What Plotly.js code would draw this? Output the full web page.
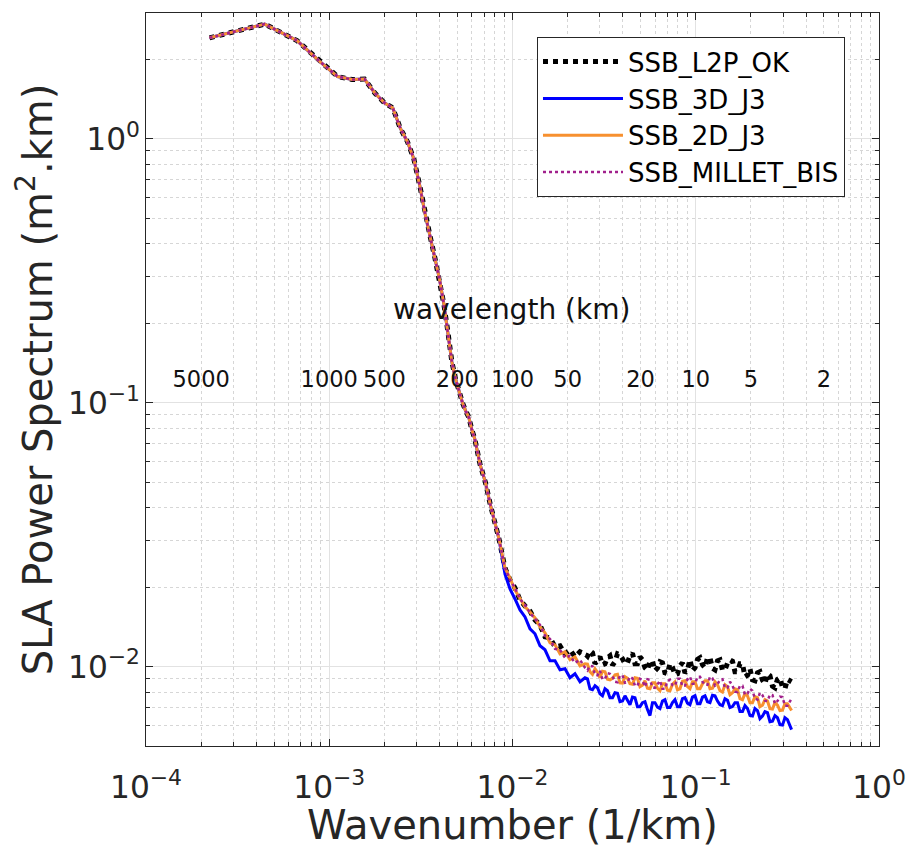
<!DOCTYPE html>
<html>
<head>
<meta charset="utf-8">
<script src="https://cdn.plot.ly/plotly-3.0.1.min.js"></script>
<style>html,body{margin:0;padding:0;background:#fff;}</style>
</head>
<body>
<div id="chart" style="width:908px;height:848px;"></div>
<script>
// ---- data ----
// common low-wavenumber part (all four spectra coincide)
const wavenumberLow = [0.0002222, 0.0004444, 0.0006667, 0.0008889, 0.0011111, 0.0013333, 0.0015556, 0.0017778, 0.002, 0.0022222,
  0.0024444, 0.0026667, 0.0028889, 0.0031111, 0.0033333, 0.0035556, 0.0037778, 0.004, 0.0042222, 0.0044444,
  0.0046667, 0.0048889, 0.0051111, 0.0053333, 0.0055556, 0.0057778, 0.006, 0.0062222, 0.0066667, 0.0071111,
  0.0075556, 0.008, 0.0084444];
const spectrumLow = [2.416, 2.722, 2.358, 1.964, 1.723, 1.679, 1.686, 1.489, 1.369, 1.310,
  1.095, 0.978, 0.844, 0.670, 0.521, 0.426, 0.352, 0.293, 0.236, 0.185,
  0.143, 0.123, 0.110, 0.100, 0.093, 0.088, 0.079, 0.073, 0.058, 0.050,
  0.0413, 0.0356, 0.0304];

// high-wavenumber part where the spectra separate (noisy)
const wavenumberHigh = [0.009101, 0.009691, 0.010319, 0.010988, 0.011702, 0.012459, 0.013268, 0.014128, 0.015043, 0.016019,
  0.017057, 0.018163, 0.019340, 0.020594, 0.021929, 0.023351, 0.024865,
  0.025659, 0.026477, 0.027323, 0.028193, 0.029093, 0.030021, 0.030980, 0.031967, 0.032988, 0.034039,
  0.035126, 0.036245, 0.037403, 0.038594, 0.039827, 0.041096, 0.042409, 0.043760, 0.045158, 0.046597,
  0.048085, 0.049617, 0.051202, 0.052834, 0.054522, 0.056258, 0.058055, 0.059906, 0.061819, 0.063789,
  0.065826, 0.067925, 0.070095, 0.072328, 0.074638, 0.077017, 0.079477, 0.082009, 0.084628, 0.087325,
  0.090114, 0.092986, 0.095956, 0.099063, 0.10223, 0.10548, 0.10885, 0.11231, 0.11590, 0.11959,
  0.12341, 0.12734, 0.13141, 0.13559, 0.13992, 0.14438, 0.14899, 0.15374, 0.15865, 0.16370,
  0.16893, 0.17431, 0.17988, 0.18561, 0.19154, 0.19764, 0.20395, 0.21045, 0.21717, 0.22409,
  0.23125, 0.23862, 0.24624, 0.25408, 0.26220, 0.27055, 0.27919, 0.28809, 0.29729, 0.30676,
  0.31656, 0.3333];

const ssbL2POK = [0.02364, 0.02129, 0.01986, 0.01788, 0.01697, 0.01625, 0.01503, 0.01439, 0.01296, 0.01285,
  0.01188, 0.01199, 0.01118, 0.01158, 0.01089, 0.01138, 0.01118,
  0.01094, 0.01148, 0.01128, 0.01025, 0.01052, 0.01089, 0.01016, 0.01025, 0.01080, 0.01099,
  0.01012, 0.01043, 0.01118, 0.01108, 0.01070, 0.01025, 0.01034, 0.01099, 0.01123, 0.01025,
  0.01025, 0.01089, 0.01061, 0.00990, 0.00968, 0.01052, 0.01048, 0.00964, 0.00986, 0.01043,
  0.01034, 0.00947, 0.00939, 0.01025, 0.00994, 0.00931, 0.00939, 0.01007, 0.01034, 0.00947,
  0.00972, 0.01061, 0.00964, 0.00990, 0.01065, 0.01080, 0.01016, 0.00990, 0.01080, 0.01080,
  0.00986, 0.00972, 0.01052, 0.01061, 0.00968, 0.00972, 0.01030, 0.01061, 0.01048, 0.00956,
  0.00956, 0.01025, 0.01025, 0.00915, 0.00927, 0.00981, 0.00891, 0.00884, 0.00947, 0.00956,
  0.00888, 0.00861, 0.00939, 0.00923, 0.00843, 0.00831, 0.00895, 0.00907, 0.00835, 0.00824,
  0.00895, 0.00876];

const ssb3DJ3 = [0.02243, 0.01968, 0.01804, 0.01639, 0.01543, 0.01390, 0.01331, 0.01199, 0.01158, 0.01052,
  0.01052, 0.00972, 0.00981, 0.00907, 0.00939, 0.00876, 0.00907,
  0.00899, 0.00824, 0.00817, 0.00846, 0.00831, 0.00789, 0.00775, 0.00824, 0.00810, 0.00762,
  0.00762, 0.00796, 0.00792, 0.00736, 0.00740, 0.00775, 0.00743, 0.00717, 0.00766, 0.00762,
  0.00705, 0.00705, 0.00730, 0.00736, 0.00687, 0.00652, 0.00730, 0.00730, 0.00702, 0.00693,
  0.00740, 0.00749, 0.00699, 0.00699, 0.00730, 0.00749, 0.00705, 0.00705, 0.00756, 0.00762,
  0.00727, 0.00717, 0.00766, 0.00775, 0.00723, 0.00723, 0.00766, 0.00775, 0.00736, 0.00730,
  0.00779, 0.00775, 0.00740, 0.00717, 0.00711, 0.00756, 0.00746, 0.00699, 0.00705, 0.00730,
  0.00730, 0.00675, 0.00675, 0.00711, 0.00693, 0.00652, 0.00649, 0.00693, 0.00681, 0.00635,
  0.00649, 0.00675, 0.00669, 0.00618, 0.00621, 0.00652, 0.00640, 0.00602, 0.00600, 0.00640,
  0.00629, 0.00577];

const ssb2DJ3 = [0.02364, 0.02166, 0.01951, 0.01820, 0.01683, 0.01611, 0.01529, 0.01414, 0.01342, 0.01230,
  0.01209, 0.01118, 0.01138, 0.01061, 0.01089, 0.01007, 0.01025,
  0.01021, 0.00956, 0.00935, 0.00981, 0.00952, 0.00907, 0.00960, 0.00956, 0.00895, 0.00891,
  0.00903, 0.00931, 0.00935, 0.00868, 0.00865, 0.00915, 0.00903, 0.00861, 0.00857, 0.00907,
  0.00903, 0.00839, 0.00850, 0.00884, 0.00828, 0.00824, 0.00868, 0.00868, 0.00828, 0.00810,
  0.00861, 0.00861, 0.00814, 0.00810, 0.00857, 0.00876, 0.00817, 0.00824, 0.00880, 0.00884,
  0.00839, 0.00824, 0.00876, 0.00876, 0.00824, 0.00824, 0.00861, 0.00884, 0.00884, 0.00824,
  0.00828, 0.00876, 0.00853, 0.00810, 0.00800, 0.00853, 0.00839, 0.00782, 0.00796, 0.00824,
  0.00817, 0.00756, 0.00749, 0.00789, 0.00775, 0.00730, 0.00730, 0.00769, 0.00762, 0.00705,
  0.00714, 0.00749, 0.00740, 0.00693, 0.00690, 0.00730, 0.00714, 0.00681, 0.00684, 0.00723,
  0.00723, 0.00681];

const ssbMilletBis = [0.02364, 0.02129, 0.01986, 0.01804, 0.01712, 0.01597, 0.01516, 0.01439, 0.01308, 0.01274,
  0.01168, 0.01158, 0.01080, 0.01099, 0.01034, 0.01061, 0.00990,
  0.00968, 0.01007, 0.01003, 0.00931, 0.00927, 0.00964, 0.00895, 0.00899, 0.00943, 0.00939,
  0.00919, 0.00876, 0.00872, 0.00923, 0.00927, 0.00868, 0.00872, 0.00915, 0.00903, 0.00846,
  0.00846, 0.00899, 0.00888, 0.00839, 0.00895, 0.00891, 0.00835, 0.00831, 0.00861, 0.00884,
  0.00824, 0.00824, 0.00880, 0.00891, 0.00850, 0.00846, 0.00899, 0.00899, 0.00843, 0.00846,
  0.00895, 0.00915, 0.00861, 0.00861, 0.00915, 0.00915, 0.00876, 0.00853, 0.00853, 0.00915,
  0.00903, 0.00846, 0.00857, 0.00891, 0.00895, 0.00831, 0.00831, 0.00876, 0.00846, 0.00803,
  0.00800, 0.00846, 0.00846, 0.00782, 0.00789, 0.00824, 0.00810, 0.00756, 0.00749, 0.00796,
  0.00779, 0.00743, 0.00740, 0.00782, 0.00779, 0.00723, 0.00740, 0.00769, 0.00766, 0.00711,
  0.00711, 0.00756];

const seriesNames = ['SSB_L2P_OK', 'SSB_3D_J3', 'SSB_2D_J3', 'SSB_MILLET_BIS'];
const wavelengthLabels = [5000, 1000, 500, 200, 100, 50, 20, 10, 5, 2];   // km
const wavelengthLabelLevel = 0.12;
const wavelengthTitle = 'wavelength (km)';
const wavelengthTitlePos = [0.0099, 0.22];

// ---- styling ----
const FONT = 'DejaVu Sans, Liberation Sans, sans-serif';
const INK = '#262626';
const styles = [
  {color: '#000000', width: 5, dash: 'dot'},
  {color: '#0000ff', width: 3, dash: 'solid'},
  {color: '#f7902f', width: 3, dash: 'solid'},
  {color: '#a1208c', width: 2.5, dash: 'dot'}
];
const highSeries = [ssbL2POK, ssb3DJ3, ssb2DJ3, ssbMilletBis];

const traces = highSeries.map((hi, i) => ({
  type: 'scatter', mode: 'lines', name: seriesNames[i],
  x: wavenumberLow.concat(wavenumberHigh),
  y: spectrumLow.concat(hi),
  line: styles[i], hoverinfo: 'skip'
}));

traces.push({
  type: 'scatter', mode: 'text', showlegend: false, hoverinfo: 'skip',
  x: wavelengthLabels.map(w => 1 / w),
  y: wavelengthLabels.map(() => wavelengthLabelLevel),
  text: wavelengthLabels.map(String),
  textposition: 'middle center',
  textfont: {family: FONT, size: 22.5, color: '#111'}
});
traces.push({
  type: 'scatter', mode: 'text', showlegend: false, hoverinfo: 'skip',
  x: [wavelengthTitlePos[0]], y: [wavelengthTitlePos[1]],
  text: [wavelengthTitle], textposition: 'middle center',
  textfont: {family: FONT, size: 28, color: '#111'}
});

function axis(extra) {
  return Object.assign({
    type: 'log', showline: true, linecolor: INK, linewidth: 1, mirror: 'allticks',
    ticks: 'inside', ticklen: 7, tickwidth: 1, tickcolor: INK,
    showgrid: true, gridcolor: '#e2e2e2', gridwidth: 1,
    minor: {ticks: 'inside', ticklen: 4, tickcolor: INK, showgrid: true,
            gridcolor: '#d6d6d6', griddash: 'dot', gridwidth: 1, dtick: 'D1'},
    dtick: 1, exponentformat: 'power', zeroline: false, automargin: false,
    labelalias: {'1': '10<sup>0</sup>'},
    tickfont: {family: FONT, size: 25, color: INK}
  }, extra);
}

const layout = {
  width: 908, height: 848,
  margin: {l: 146, r: 29, t: 13, b: 102},
  paper_bgcolor: '#ffffff', plot_bgcolor: '#ffffff',
  font: {family: FONT, color: INK},
  showlegend: true,
  xaxis: axis({range: [-4, 0], ticklabelstandoff: 15,
    title: {text: 'Wavenumber (1/km)', font: {family: FONT, size: 40, color: INK}, standoff: 27}}),
  yaxis: axis({range: [-2.30103, 0.47712],
    title: {text: 'SLA Power Spectrum (m<sup>2</sup>.km)', font: {family: FONT, size: 40, color: INK}, standoff: 3}}),
  legend: {x: 0.5334, y: 0.967, xanchor: 'left', yanchor: 'top',
    bgcolor: '#ffffff', bordercolor: INK, borderwidth: 1,
    font: {family: FONT, size: 26, color: '#000'}, itemwidth: 80, tracegroupgap: 0}
};

Plotly.newPlot('chart', traces, layout, {displayModeBar: false, staticPlot: true});
</script>
</body>
</html>
